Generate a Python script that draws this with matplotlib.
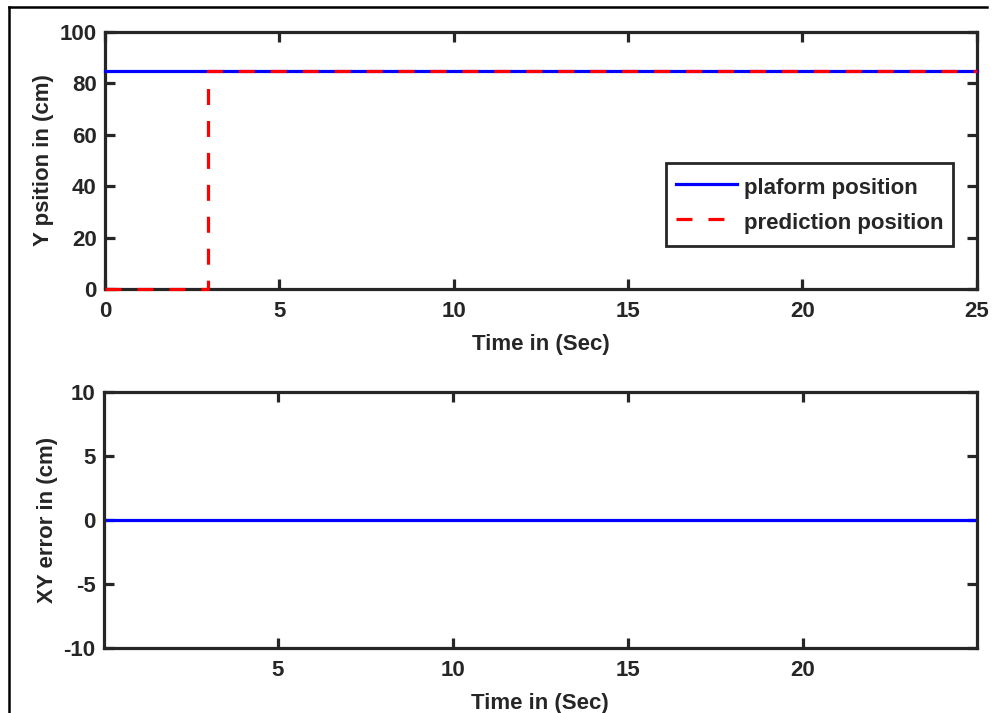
import matplotlib.pyplot as plt
from matplotlib.lines import Line2D

# platform / predicted Y position (cm) against time (s)
t_platform = [0, 25]
y_platform = [85, 85]
t_pred = [0, 2.95, 2.95, 25]
y_pred = [0, 0, 85, 85]

# XY error (cm)
t_err = [0, 25]
xy_err = [0, 0]

top_xticks = [0, 5, 10, 15, 20, 25]
top_yticks = [0, 20, 40, 60, 80, 100]
bot_xticks = [5, 10, 15, 20]
bot_yticks = [-10, -5, 0, 5, 10]

plt.rcParams['font.family'] = 'Liberation Sans'
plt.rcParams['font.weight'] = 'bold'
plt.rcParams['font.size'] = 16
plt.rcParams['axes.unicode_minus'] = False

ink = '#262626'

fig = plt.figure(figsize=(9.95, 7.13), dpi=100)
ax1 = fig.add_axes([0.1055, 0.5947, 0.876, 0.3604])
ax2 = fig.add_axes([0.1045, 0.0912, 0.877, 0.359])


def style(ax):
    for s in ax.spines.values():
        s.set_linewidth(2.3)
        s.set_color(ink)
    ax.tick_params(direction='in', length=7, width=2.3, color=ink,
                   labelcolor=ink, top=True, right=True)
    ax.tick_params(axis='x', pad=9)
    ax.tick_params(axis='y', pad=6)


ax1.plot(t_platform, y_platform, color='#0000ff', lw=2.3,
         label='plaform position', clip_on=False, zorder=5)
ax1.plot(t_pred, y_pred, color='#ff0000', lw=2.3, ls=(0, (5, 5)),
         label='prediction position', clip_on=False, zorder=6)
ax1.set_xlim(0, 25)
ax1.set_ylim(0, 100)
ax1.set_xticks(top_xticks)
ax1.set_yticks(top_yticks)
ax1.set_xlabel('Time in (Sec)', fontweight='bold', color=ink, labelpad=8)
ax1.set_ylabel('Y psition in (cm)', fontweight='bold', color=ink, labelpad=4)
style(ax1)
leg = ax1.legend(loc='upper right', bbox_to_anchor=(0.973, 0.49),
                 fancybox=False, framealpha=1, handlelength=2.75,
                 handleheight=1.5, borderpad=0.45, labelspacing=0.37,
                 handletextpad=0.3, borderaxespad=0,
                 prop={'weight': 'bold', 'size': 16})
leg.get_frame().set_edgecolor(ink)
leg.get_frame().set_linewidth(2)
for txt in leg.get_texts():
    txt.set_color(ink)

ax2.plot(t_err, xy_err, color='#0000ff', lw=2.3)
ax2.set_xlim(0.03, 24.97)
ax2.set_ylim(-10, 10)
ax2.set_xticks(bot_xticks)
ax2.set_yticks(bot_yticks)
ax2.set_xlabel('Time in (Sec)', fontweight='bold', color=ink, labelpad=8)
ax2.set_ylabel('XY error in (cm)', fontweight='bold', color=ink, labelpad=4)
style(ax2)

# frame around the figure (left and top edges)
fig.add_artist(Line2D([0.0086, 0.0086], [0, 0.990], color='black', lw=1.8,
                      transform=fig.transFigure))
fig.add_artist(Line2D([0.0086, 0.992], [0.990, 0.990], color='black', lw=1.8,
                      transform=fig.transFigure))

fig.savefig('out.png', dpi=100)
